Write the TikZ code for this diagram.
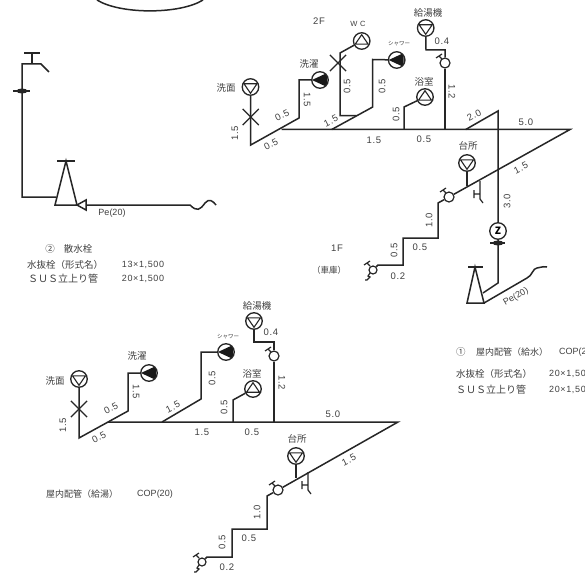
\documentclass[tikz,border=0pt]{standalone}
\usepackage{fontspec}
\setmainfont{Liberation Sans}
\newfontfamily\jp{Noto Sans CJK JP}
\newfontfamily\dimfont[LetterSpace=7]{Liberation Sans}
\usetikzlibrary{shapes.misc}
\usetikzlibrary{shapes.geometric}

\begin{document}
\begin{tikzpicture}[x=1pt,y=-1pt]
\tikzstyle{pipe} =
[
	line width	= 1.5pt,		% thickness of the pipes
	draw		= black!85,		% colour of the pipes
	line join	= miter
]
\tikzstyle{dimText} =
[
	text		= black!75,		% colour of the numbers
	inner sep	= 0pt,
	font		= \fontsize{9.5}{10}\dimfont
]
\tikzstyle{noteText} =
[
	text		= black!75,
	inner sep	= 0pt,
	font		= \fontsize{9}{10}\selectfont
]
\tikzstyle{jpText} =
[
	text		= black!75,		% colour of the labels
	inner sep	= 0pt,
	font		= \fontsize{9.5}{11}\selectfont\jp
]
\tikzstyle{fixture} =
[
	shape		= circle,
	draw		= black!85,
	line width	= 1.3pt,
	fill		= white,
	inner sep	= 0pt,
	minimum size	= 16.5pt			% outer ring of the outlet
]
\tikzstyle{downOutlet} =
[
	fixture,
	path picture = {\draw [line width=1.1pt] (path picture bounding box.center) ++(-6.5,-3.2) -- ++(13,0) -- ++(-6.5,9.5) -- cycle;}
]
\tikzstyle{upOutlet} =
[
	fixture,
	path picture = {\draw [line width=1.1pt] (path picture bounding box.center) ++(-6.5,3.2) -- ++(13,0) -- ++(-6.5,-9.5) -- cycle;}
]
\tikzstyle{blackOutlet} =
[
	fixture,
	path picture = {\fill [black!90] (path picture bounding box.center) ++(-8,0) -- ++(15,-7) -- ++(0,14) -- cycle;}
]
\tikzstyle{cock} =
[
	shape		= circle,
	draw		= black!85,
	line width	= 1.2pt,
	fill		= white,
	inner sep	= 0pt,
	minimum size	= 10pt
]
\tikzstyle{crossMark} =
[
	shape		= cross out,
	draw		= black!85,
	line width	= 1.2pt,
	inner sep	= 0pt,
	minimum size	= 15pt
]
\tikzstyle{flange} =
[
	shape		= ellipse,
	fill		= black!85,
	inner sep	= 0pt,
	minimum width	= 11pt,
	minimum height	= 5pt
]
\newcommand{\cockHandle}[1]{\draw [pipe, line width=1.2pt] (#1) ++(-3,-4) -- ++(-3,-3) ++(-3,2) -- ++(6,-4);}
\newcommand{\stopValve}[1]{\draw [pipe, line width=1.2pt] (#1) -- ++(0,18) -- ++(3,4) ++(-9,-13) -- ++(0,8) ++(0,-4) -- ++(6,0);}

\useasboundingbox (0,0) rectangle (585,572);
\fill [white] (0,0) rectangle (585,572);

% circle cut off at the top
\coordinate (arcL) at (97,0);
\coordinate (arcR) at (203,0);
\draw [pipe] (arcL) .. controls (120,14.5) and (180,14.5) .. (arcR);

% ---- garden tap
\coordinate (tapTop) at (22,64);
\coordinate (tapBottom) at (22,197);
\coordinate (tapSpout) at (41,64);
\coordinate (tapEnd) at (49,72);
\coordinate (tapStem) at (32,64);
\coordinate (tapBar) at (32,53);
\coordinate (boxIn) at (56,197);
\coordinate (boxEnd) at (190,205);
\coordinate (boxWave) at (216,205);
\node (tapFlange) [flange] at (22,91) {};
\draw [pipe] (tapFlange.west) ++(-3,0) -- ++(17,0);
\draw [pipe] (boxIn) -- (tapBottom) -- (tapTop) -- (tapSpout) -- (tapEnd);
\draw [pipe] (tapStem) -- (tapBar);
\draw [pipe] (24,53) -- (40,53);
\draw [pipe] (57,161) -- (75,161);
\draw [pipe] (66,161) -- (55,205) -- (77,205) -- cycle;
\draw [pipe, fill=white] (77,205) -- (86,200) -- (86,210) -- cycle;
\draw [pipe] (86,205) -- (boxEnd) .. controls (197,212) and (200,210) .. (205,203) .. controls (209,198) and (213,201) .. (boxWave);
\node (pe1) [noteText] at (112,213) {Pe(20)};
\node (no2) [jpText] at (50,249) {②};
\node (no2name) [jpText] at (78,249) {散水栓};
\node (row1a) [jpText] at (65,265) {水抜栓（形式名）};
\node (row1b) [dimText, font=\fontsize{9}{10}\dimfont] at (143,265) {13×1,500};
\node (row2a) [jpText, font=\fontsize{10}{11}\selectfont\jp] at (63,279) {ＳＵＳ立上り管};
\node (row2b) [dimText, font=\fontsize{9}{10}\dimfont] at (143,279) {20×1,500};

% ---- upper plan, 2F
\node (sink) [downOutlet] at (250.5,87) {};
\node (wash) [blackOutlet] at (320,80) {};
\node (wc) [upOutlet] at (361.7,41) {};
\node (shower) [blackOutlet] at (396.7,60) {};
\node (bath) [upOutlet] at (425,97) {};
\node (heater) [downOutlet] at (425.7,28) {};
\node (kitchen) [downOutlet] at (467,163) {};
\node (meter) [fixture] at (498,231) {\jp\bfseries Z};
\node (meterFlange) [flange] at (498,243) {};
\node (heaterCock) [cock] at (445,63) {};
\node (mainCock) [cock] at (449,197) {};
\node (garageCock) [cock, minimum size=8pt] at (373,270) {};
\node (sinkCross) [crossMark] at (250.7,117) {};
\node (wcCross) [crossMark] at (338,63) {};
\coordinate (s0) at (250.7,145);
\coordinate (s1) at (281.7,129.5);
\coordinate (s2) at (299,118);
\coordinate (s3) at (299,80);
\coordinate (mainEnd) at (570,129.5);
\coordinate (b1) at (331.7,129.5);
\coordinate (b2) at (372.7,107);
\coordinate (b3) at (372.7,59.5);
\coordinate (w1) at (356.7,115.7);
\coordinate (w2) at (340,115.7);
\coordinate (w3) at (340,53);
\coordinate (t1) at (404,129.5);
\coordinate (t2) at (404,107);
\coordinate (h1) at (445,129.5);
\coordinate (h2) at (445,50);
\coordinate (h3) at (426,50);
\coordinate (u1) at (465.7,129.5);
\coordinate (u2) at (498,111);
\coordinate (u3) at (498,283);
\coordinate (u4) at (483,293);
\coordinate (k1) at (467,186);
\coordinate (k2) at (480,181);
\coordinate (d1) at (438,203);
\coordinate (d2) at (438,238);
\coordinate (d3) at (403,238);
\coordinate (d4) at (403,265);
\coordinate (d5) at (378,265);
\coordinate (peEnd) at (527,278);
\coordinate (peWave) at (547,267);
\draw [pipe] (sink) -- (s0) -- (s2) -- (s3) -- (wash);
\draw [pipe] (s1) -- (mainEnd) -- (mainCock);
\draw [pipe] (b1) -- (b2) -- (b3) -- (shower);
\draw [pipe] (w1) -- (w2) -- (w3) -- (wc);
\draw [pipe] (t1) -- (t2) -- (bath);
\draw [pipe] (h1) -- (heaterCock);
\draw [pipe] (heaterCock) -- (h2) -- (h3) -- (heater);
\draw [pipe] (u1) -- (u2) -- (meter);
\draw [pipe] (meter) -- (u3) -- (u4);
\draw [pipe] (kitchen) -- (k1);
\draw [pipe] (mainCock) -- (d1) -- (d2) -- (d3) -- (d4) -- (d5) -- (garageCock);
\stopValve{k2}
\cockHandle{heaterCock}
\cockHandle{mainCock}
\cockHandle{garageCock}
\draw [pipe, line width=1.2pt] (garageCock) ++(-3,3) -- ++(-2,3) -- ++(2,1) -- ++(-3,3) -- ++(-2,0);
\draw [pipe] (meterFlange.west) ++(-2,0) -- ++(15,0);
\draw [pipe] (468,267) -- (483,267);
\draw [pipe] (475,267) -- (467,303) -- (484,303) -- cycle;
\draw [pipe] (484,303) -- (peEnd) .. controls (532,276) and (533,268) .. (537,268) .. controls (541,268) and (541,266) .. (peWave);

\node (l2F) [dimText] at (319,21) {2F};
\node (lWC) [dimText, font=\fontsize{7.5}{8}\dimfont] at (358,24) {W C};
\node (lSink) [jpText] at (226,88) {洗面};
\node (lWash) [jpText] at (309,64) {洗濯};
\node (lShower) [jpText, font=\fontsize{5.5}{6}\selectfont\jp] at (399,44) {シャワー};
\node (lHeater) [jpText] at (428,13) {給湯機};
\node (lBath) [jpText] at (424,82) {浴室};
\node (lKitchen) [jpText] at (468,146) {台所};
\node (l1F) [dimText] at (337,248) {1F};
\node (lGarage) [jpText, font=\fontsize{8.5}{10}\selectfont\jp] at (329,270) {（車庫）};
\node (d01) [dimText, rotate=90] at (235,133) {1.5};
\node (d02) [dimText, rotate=27] at (271,144) {0.5};
\node (d03) [dimText, rotate=27] at (282,115) {0.5};
\node (d04) [dimText, rotate=-90] at (307,100) {1.5};
\node (d05) [dimText, rotate=90] at (347,86) {0.5};
\node (d06) [dimText, rotate=90] at (382,86) {0.5};
\node (d07) [dimText, rotate=27] at (331,121) {1.5};
\node (d08) [dimText] at (374,140) {1.5};
\node (d09) [dimText, rotate=90] at (396,114) {0.5};
\node (d10) [dimText] at (442,41) {0.4};
\node (d11) [dimText, rotate=-90] at (452,92) {1.2};
\node (d12) [dimText] at (424,139) {0.5};
\node (d13) [dimText, rotate=27] at (474,115) {2.0};
\node (d14) [dimText] at (526,122) {5.0};
\node (d15) [dimText, rotate=27] at (521,168) {1.5};
\node (d16) [dimText, rotate=90] at (507,201) {3.0};
\node (d17) [dimText, rotate=90] at (429,220) {1.0};
\node (d18) [dimText] at (420,247) {0.5};
\node (d19) [dimText, rotate=90] at (394,250) {0.5};
\node (d20) [dimText] at (398,276) {0.2};
\node (pe2) [noteText, rotate=30] at (516,297) {Pe(20)};
\node (no1) [jpText, anchor=west] at (456,352) {①};
\node (no1name) [jpText, anchor=west, font=\fontsize{9}{11}\selectfont\jp] at (476,352) {屋内配管（給水）};
\node (no1cop) [noteText, anchor=west] at (559,352) {COP(20)};
\node (row3a) [jpText, anchor=west] at (456,374) {水抜栓（形式名）};
\node (row3b) [dimText, anchor=west, font=\fontsize{9}{10}\dimfont] at (549,374) {20×1,500};
\node (row4a) [jpText, anchor=west, font=\fontsize{10}{11}\selectfont\jp] at (456,390) {ＳＵＳ立上り管};
\node (row4b) [dimText, anchor=west, font=\fontsize{9}{10}\dimfont] at (549,390) {20×1,500};

% ---- lower plan, hot water
\node (sinkH) [downOutlet] at (79,379) {};
\node (washH) [blackOutlet] at (149,373) {};
\node (showerH) [blackOutlet] at (226,352) {};
\node (bathH) [upOutlet] at (253,389) {};
\node (heaterH) [downOutlet] at (254,321) {};
\node (kitchenH) [downOutlet] at (296,456) {};
\node (heaterCockH) [cock] at (274,356) {};
\node (mainCockH) [cock] at (278,490) {};
\node (endCockH) [cock, minimum size=8pt] at (202,562) {};
\node (sinkCrossH) [crossMark] at (79,409) {};
\coordinate (m0) at (79,438);
\coordinate (m1) at (108,422);
\coordinate (m2) at (128,411);
\coordinate (m3) at (128,373);
\coordinate (mainEndH) at (398,422);
\coordinate (n1) at (162,422);
\coordinate (n2) at (201,399);
\coordinate (n3) at (201,352);
\coordinate (o1) at (233,422);
\coordinate (o2) at (233,400);
\coordinate (p1) at (274,422);
\coordinate (p2) at (274,342);
\coordinate (p3) at (254,342);
\coordinate (q1) at (296,478);
\coordinate (q2) at (308,472);
\coordinate (r1) at (267,496);
\coordinate (r2) at (267,529);
\coordinate (r3) at (232,529);
\coordinate (r4) at (232,557);
\coordinate (r5) at (207,557);
\draw [pipe] (sinkH) -- (m0) -- (m2) -- (m3) -- (washH);
\draw [pipe] (m1) -- (mainEndH) -- (mainCockH);
\draw [pipe] (n1) -- (n2) -- (n3) -- (showerH);
\draw [pipe] (o1) -- (o2) -- (bathH);
\draw [pipe] (p1) -- (heaterCockH);
\draw [pipe] (heaterCockH) -- (p2) -- (p3) -- (heaterH);
\draw [pipe] (kitchenH) -- (q1);
\draw [pipe] (mainCockH) -- (r1) -- (r2) -- (r3) -- (r4) -- (r5) -- (endCockH);
\stopValve{q2}
\cockHandle{heaterCockH}
\cockHandle{mainCockH}
\cockHandle{endCockH}
\draw [pipe, line width=1.2pt] (endCockH) ++(-3,3) -- ++(-2,3) -- ++(2,1) -- ++(-3,3) -- ++(-2,0);

\node (lSinkH) [jpText] at (55,381) {洗面};
\node (lWashH) [jpText] at (137,356) {洗濯};
\node (lShowerH) [jpText, font=\fontsize{5.5}{6}\selectfont\jp] at (228,337) {シャワー};
\node (lHeaterH) [jpText] at (257,306) {給湯機};
\node (lBathH) [jpText] at (252,374) {浴室};
\node (lKitchenH) [jpText] at (297,439) {台所};
\node (e01) [dimText, rotate=90] at (63,425) {1.5};
\node (e02) [dimText, rotate=27] at (99,437) {0.5};
\node (e03) [dimText, rotate=27] at (111,408) {0.5};
\node (e04) [dimText, rotate=-90] at (136,392) {1.5};
\node (e05) [dimText, rotate=27] at (173,407) {1.5};
\node (e06) [dimText] at (202,432) {1.5};
\node (e07) [dimText, rotate=90] at (212,378) {0.5};
\node (e08) [dimText, rotate=90] at (224,407) {0.5};
\node (e09) [dimText] at (252,432) {0.5};
\node (e10) [dimText] at (271,332) {0.4};
\node (e11) [dimText, rotate=-90] at (282,383) {1.2};
\node (e12) [dimText] at (333,414) {5.0};
\node (e13) [dimText, rotate=27] at (349,460) {1.5};
\node (e14) [dimText, rotate=90] at (257,512) {1.0};
\node (e15) [dimText] at (249,538) {0.5};
\node (e16) [dimText, rotate=90] at (222,542) {0.5};
\node (e17) [dimText] at (227,567) {0.2};
\node (lHot) [jpText, font=\fontsize{9}{11}\selectfont\jp] at (82,494) {屋内配管（給湯）};
\node (lCop) [noteText] at (155,494) {COP(20)};
\end{tikzpicture}
\end{document}
